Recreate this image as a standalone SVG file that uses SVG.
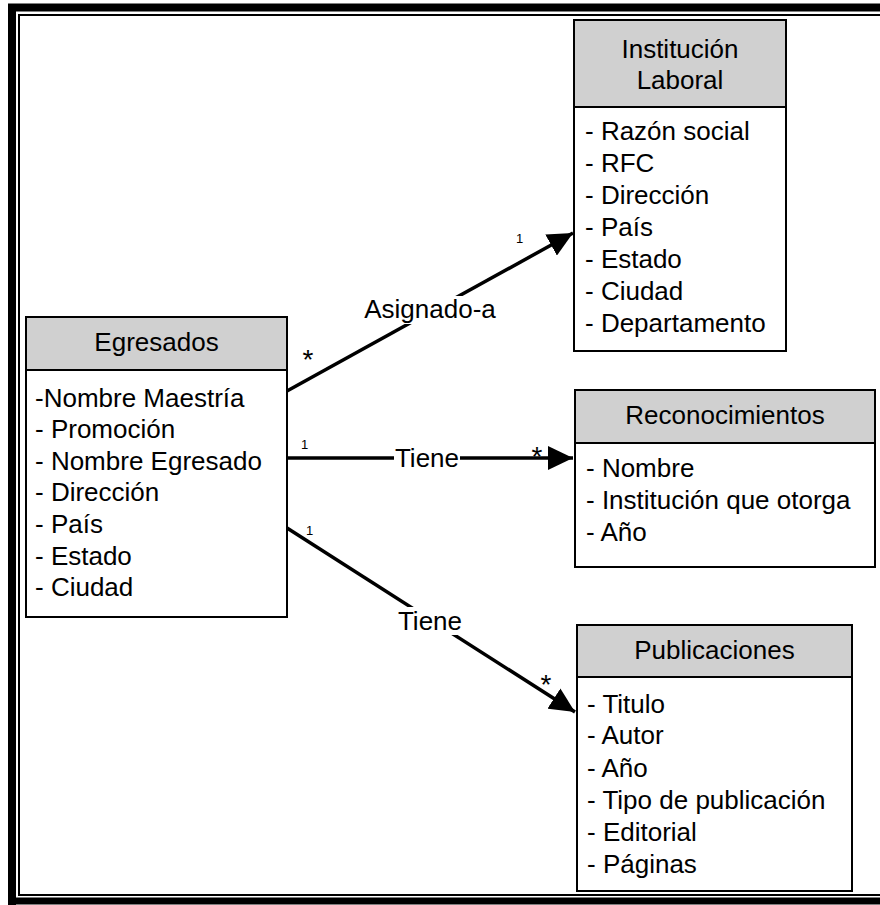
<svg xmlns="http://www.w3.org/2000/svg" width="880" height="905" viewBox="0 0 880 905">
  <defs>
    <style>
      text { font-family: "Liberation Sans", Arial, sans-serif; fill: #000; }
      .t { font-size: 26px; }
      .c { text-anchor: middle; }
      .hdr { fill: #d0d0d0; stroke: #000; stroke-width: 2; }
      .body { fill: #fff; stroke: #000; stroke-width: 2; }
      .conn { stroke: #000; stroke-width: 3.5; fill: none; }
      .one { font-size: 13px; }
      .many { font-size: 28px; text-anchor: middle; }
      .lblbg { fill: #fff; }
    </style>
    <marker id="arrow" markerUnits="userSpaceOnUse" markerWidth="26" markerHeight="24" refX="25" refY="12" orient="auto">
      <path d="M0,0 L25,12 L0,24 z" fill="#000"/>
    </marker>
  </defs>

  <rect width="880" height="905" fill="#fff"/>

  <!-- page frame: thick outer rule with thin inner rule -->
  <g id="frame">
    <path d="M12,905 V7.5 H880" fill="none" stroke="#000" stroke-width="8"/>
    <line x1="8" y1="901" x2="880" y2="901" stroke="#000" stroke-width="7"/>
    <path d="M19,895 V15 H880" fill="none" stroke="#000" stroke-width="2"/>
    <line x1="18" y1="895" x2="880" y2="895" stroke="#000" stroke-width="2"/>
  </g>

  <!-- associations -->
  <g id="connectors">
    <line class="conn" x1="287" y1="391" x2="573" y2="233" marker-end="url(#arrow)"/>
    <line class="conn" x1="287" y1="458" x2="573" y2="458" marker-end="url(#arrow)"/>
    <line class="conn" x1="287" y1="528" x2="575" y2="712" marker-end="url(#arrow)"/>

    <rect class="lblbg" x="362" y="296" width="136" height="28"/>
    <text class="t c" x="430" y="318">Asignado-a</text>
    <rect class="lblbg" x="394" y="446" width="66" height="26"/>
    <text class="t c" x="427" y="467">Tiene</text>
    <rect class="lblbg" x="396" y="607" width="68" height="28"/>
    <text class="t c" x="430" y="630">Tiene</text>

    <text class="many" x="308" y="369">*</text>
    <text class="one" x="516" y="243">1</text>
    <text class="one" x="301" y="449">1</text>
    <text class="many" x="537" y="466">*</text>
    <text class="one" x="306" y="535">1</text>
    <text class="many" x="546" y="694">*</text>
  </g>

  <g id="egresados">
    <rect class="body" x="26" y="317" width="261" height="300"/>
    <rect class="hdr" x="26" y="317" width="261" height="53"/>
    <text class="t c" x="156.5" y="351">Egresados</text>
    <text class="t" x="35" y="407">-Nombre Maestría</text>
    <text class="t" x="35" y="438">- Promoción</text>
    <text class="t" x="35" y="470">- Nombre Egresado</text>
    <text class="t" x="35" y="501">- Dirección</text>
    <text class="t" x="35" y="533">- País</text>
    <text class="t" x="35" y="565">- Estado</text>
    <text class="t" x="35" y="596">- Ciudad</text>
  </g>

  <g id="institucion-laboral">
    <rect class="body" x="574" y="20" width="212" height="331"/>
    <rect class="hdr" x="574" y="20" width="212" height="87"/>
    <text class="t c" x="680" y="58">Institución</text>
    <text class="t c" x="680" y="89">Laboral</text>
    <text class="t" x="585" y="140">- Razón social</text>
    <text class="t" x="585" y="172">- RFC</text>
    <text class="t" x="585" y="204">- Dirección</text>
    <text class="t" x="585" y="236">- País</text>
    <text class="t" x="585" y="268">- Estado</text>
    <text class="t" x="585" y="300">- Ciudad</text>
    <text class="t" x="585" y="332">- Departamento</text>
  </g>

  <g id="reconocimientos">
    <rect class="body" x="575" y="390" width="300" height="177"/>
    <rect class="hdr" x="575" y="390" width="300" height="53"/>
    <text class="t c" x="725" y="424">Reconocimientos</text>
    <text class="t" x="586" y="477">- Nombre</text>
    <text class="t" x="586" y="509">- Institución que otorga</text>
    <text class="t" x="586" y="541">- Año</text>
  </g>

  <g id="publicaciones">
    <rect class="body" x="577" y="625" width="275" height="266"/>
    <rect class="hdr" x="577" y="625" width="275" height="52"/>
    <text class="t c" x="714.5" y="659">Publicaciones</text>
    <text class="t" x="587" y="713">- Titulo</text>
    <text class="t" x="587" y="744">- Autor</text>
    <text class="t" x="587" y="777">- Año</text>
    <text class="t" x="587" y="809">- Tipo de publicación</text>
    <text class="t" x="587" y="841">- Editorial</text>
    <text class="t" x="587" y="873">- Páginas</text>
  </g>
</svg>
